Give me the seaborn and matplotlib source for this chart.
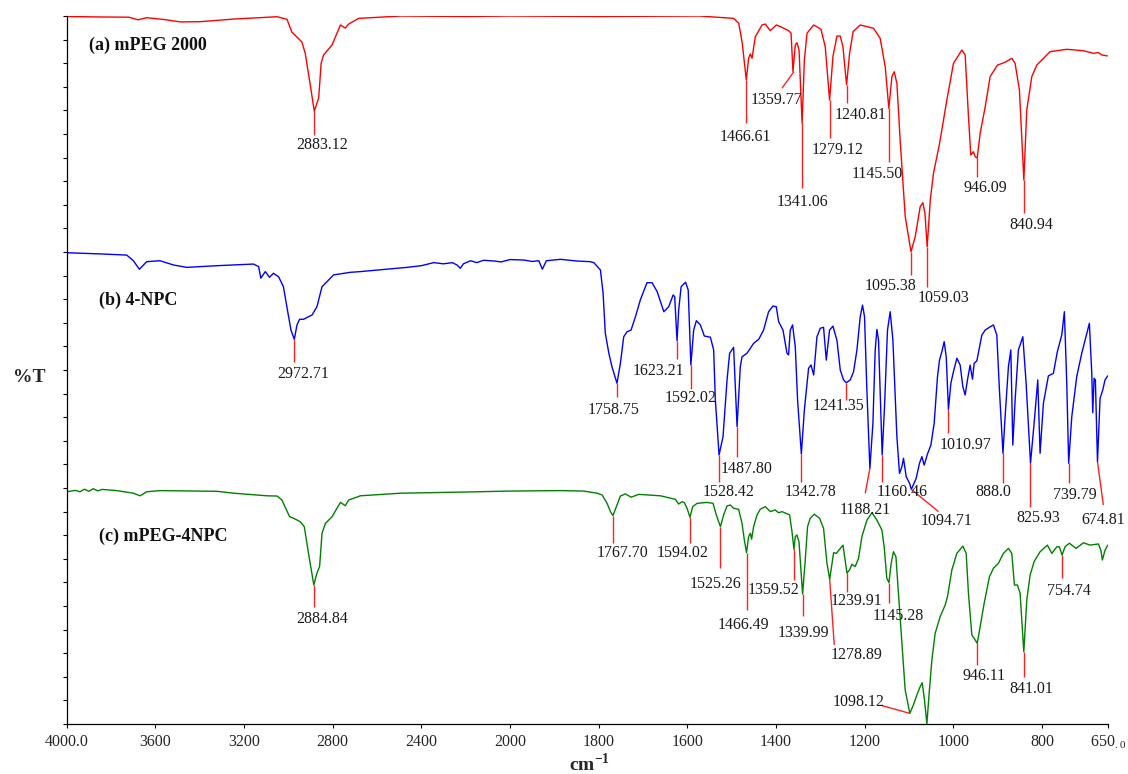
import numpy as np
import matplotlib
matplotlib.use("Agg")
import matplotlib.pyplot as plt
import seaborn as sns

# x axis: wavenumber (cm-1), scale is halved above 2000
x_ticks = [4000, 3600, 3200, 2800, 2400, 2000, 1800, 1600, 1400, 1200, 1000, 800, 650]
x_tick_labels = ['4000.0', '3600', '3200', '2800', '2400', '2000', '1800', '1600',
                 '1400', '1200', '1000', '800', r'650$\mathregular{_{.0}}$']

# (a) mPEG 2000 - stacked %T (arbitrary offset units)
wn_a = [4000, 3850, 3720, 3678, 3639, 3560, 3487, 3397, 3248, 3051, 3006, 2984, 2939, 2924,
        2901, 2883, 2863, 2852, 2841, 2803, 2765, 2743, 2728, 2683, 2494, 2200, 2000, 1800,
        1572, 1495.5, 1484, 1476, 1467, 1461.7, 1458, 1454, 1446.7, 1431.5, 1424, 1413,
        1399.3, 1390, 1371.6, 1366, 1361.7, 1356.5, 1352.7, 1348, 1341.1, 1336, 1330, 1315,
        1298.6, 1288.9, 1279.1, 1271.5, 1262.5, 1255, 1249, 1240.8, 1234, 1226, 1210, 1180,
        1165, 1153.6, 1145.5, 1138.5, 1133.3, 1127.3, 1120, 1108.5, 1095.4, 1086, 1074.7,
        1068.7, 1064, 1059, 1052, 1044.8, 1031, 1014.6, 999.7, 980.8, 973.3, 965.8, 960.6,
        954.6, 950.8, 946.1, 939.5, 928, 917, 900.5, 883.2, 868, 860.6, 850.9, 840.9, 834.3,
        823, 811.7, 781.7, 744, 706.6, 684, 672.8, 665, 652.5]
t_a = [29.98, 29.96, 29.95, 29.84, 29.93, 29.85, 29.75, 29.76, 29.87, 29.97, 29.86, 29.32,
       28.90, 28.43, 27.08, 25.97, 26.53, 28.00, 28.35, 28.77, 29.62, 29.49, 29.66, 29.90,
       30.00, 29.98, 30.00, 29.98, 30.00, 29.90, 29.69, 28.84, 27.29, 28.21, 28.39, 28.21,
       29.12, 29.62, 29.66, 29.38, 29.62, 29.55, 29.38, 29.27, 27.64, 28.77, 28.87, 28.56,
       25.45, 28.14, 29.27, 29.62, 29.44, 28.70, 26.44, 28.28, 29.15, 29.15, 28.70, 27.08,
       28.42, 29.34, 29.62, 29.48, 29.05, 27.85, 26.09, 27.43, 27.64, 27.15, 24.75, 21.50,
       20.01, 20.65, 21.92, 22.09, 21.64, 20.22, 22.20, 23.33, 24.60, 26.44, 27.99, 28.56,
       28.35, 25.73, 24.11, 24.25, 24.04, 23.98, 25.03, 26.16, 27.43, 27.92, 28.04, 28.21,
       27.99, 26.86, 23.05, 26.02, 27.43, 27.92, 28.49, 28.59, 28.53, 28.42, 28.45, 28.35,
       28.31]

# (b) 4-NPC
wn_b = [4000, 3850, 3729, 3699, 3672, 3639, 3579, 3518, 3458, 3322, 3157, 3134, 3124, 3104,
        3085, 3067, 3044, 3022, 3004, 2988, 2973, 2961, 2949, 2931, 2909, 2893, 2871, 2848,
        2796, 2720, 2675, 2580, 2464, 2400, 2344, 2300, 2260, 2239, 2224, 2210, 2178, 2150,
        2120, 2073, 2040, 2000, 1969, 1950, 1935, 1927, 1918, 1886, 1850, 1819, 1811, 1796,
        1790, 1785, 1777, 1770, 1758.7, 1751, 1743.5, 1736, 1727, 1717, 1706, 1691, 1679.5,
        1668, 1653, 1642, 1632, 1628.5, 1623.2, 1619.5, 1614, 1604, 1598, 1592, 1585.7,
        1579.6, 1570.6, 1561.6, 1548, 1540.6, 1536.8, 1528.4, 1519.5, 1510.4, 1504.6, 1495.6,
        1487.8, 1480.5, 1476.6, 1465.4, 1450.5, 1439, 1428, 1416.7, 1406.8, 1399.3, 1394.1,
        1384.2, 1375.2, 1371.6, 1367.8, 1362.6, 1356.5, 1351.3, 1342.8, 1336, 1326.5, 1321,
        1315, 1307.6, 1300, 1292.7, 1286.6, 1279.2, 1271.5, 1262.5, 1255, 1247.6, 1241.4,
        1232.5, 1225, 1217.4, 1210, 1204.8, 1200.3, 1195, 1188.2, 1181.4, 1176.2, 1172.4,
        1168.7, 1160.5, 1155.2, 1148.5, 1142.4, 1136.3, 1127.3, 1121.4, 1116, 1112.4, 1106.3,
        1098.8, 1094.7, 1083.8, 1076.3, 1070.9, 1065.7, 1058.3, 1050.6, 1043.2, 1035.7,
        1031.2, 1025.8, 1020.6, 1016, 1011, 1005.5, 999.7, 992, 984.6, 978.5, 973.3, 968.1,
        962.1, 956.8, 953, 946.9, 935.7, 928.2, 917, 909.5, 901.9, 896, 888, 883.2, 875.7,
        870.3, 865.8, 860.6, 853.2, 843.2, 835.8, 825.9, 817.8, 809.5, 804.3, 796.8, 785.6,
        774.3, 765.3, 755.4, 749.5, 744.1, 739.8, 732.8, 721.6, 710.3, 702.8, 693.1, 687.7,
        685.5, 682.5, 679.6, 674.8, 669, 663, 657.8, 651.7]
t_b = [19.97, 19.92, 19.87, 19.63, 19.27, 19.59, 19.63, 19.45, 19.35, 19.42, 19.49, 19.38,
       18.89, 19.17, 18.93, 19.10, 18.95, 18.53, 17.54, 16.69, 16.30, 16.91, 17.15, 17.15,
       17.26, 17.33, 17.68, 18.53, 19.03, 19.14, 19.17, 19.25, 19.35, 19.42, 19.55, 19.50,
       19.55, 19.45, 19.31, 19.50, 19.63, 19.55, 19.65, 19.62, 19.58, 19.68, 19.66, 19.60,
       19.63, 19.27, 19.63, 19.69, 19.62, 19.59, 19.55, 19.24, 18.25, 16.56, 15.71, 15.14,
       14.44, 15.28, 16.41, 16.62, 16.69, 17.26, 17.97, 18.70, 18.70, 18.32, 17.47, 17.68,
       18.18, 18.11, 16.24, 17.54, 18.53, 18.72, 18.39, 15.21, 16.69, 17.09, 16.91, 16.44,
       16.39, 15.85, 13.73, 11.40, 12.17, 14.58, 15.71, 15.96, 12.60, 15.14, 15.56, 15.71,
       16.13, 16.30, 16.69, 17.47, 17.71, 17.68, 17.05, 16.69, 15.71, 15.64, 16.69, 16.91,
       15.99, 13.73, 11.44, 13.31, 15.07, 15.21, 14.79, 16.41, 16.77, 16.81, 15.42, 16.69,
       16.86, 16.25, 15.00, 14.58, 14.46, 14.58, 14.93, 15.85, 17.26, 17.75, 17.26, 14.15,
       10.83, 12.74, 15.85, 16.72, 16.27, 11.40, 13.45, 16.69, 17.47, 16.27, 12.17, 10.62,
       10.90, 11.26, 10.48, 10.20, 9.94, 10.41, 11.05, 11.33, 10.97, 11.44, 11.82, 12.74,
       14.72, 15.42, 15.78, 16.20, 15.56, 13.33, 14.44, 14.93, 15.50, 15.21, 14.29, 13.94,
       14.58, 15.21, 14.61, 15.28, 15.39, 16.48, 16.69, 16.83, 16.91, 16.48, 14.15, 11.47,
       13.02, 15.14, 15.85, 11.82, 13.73, 15.85, 16.41, 14.44, 11.05, 12.74, 14.58, 11.47,
       13.59, 14.75, 14.86, 15.78, 16.48, 17.47, 14.44, 11.05, 13.02, 14.72, 15.71, 16.27,
       16.98, 14.86, 13.19, 14.65, 14.58, 11.11, 13.80, 14.15, 14.58, 14.75]

# (c) mPEG-4NPC
wn_c = [4000, 3960, 3940, 3920, 3900, 3880, 3860, 3840, 3774, 3699, 3669, 3639, 3579, 3322,
        3247, 3097, 3051, 3029, 2994, 2976, 2946, 2928, 2909, 2885, 2871, 2859, 2848, 2833,
        2803, 2765, 2743, 2728, 2675, 2494, 2200, 2000, 1886, 1834, 1803.5, 1792, 1781,
        1773.5, 1767.7, 1760, 1751, 1739.7, 1726.8, 1709.7, 1660.8, 1626.9, 1619.5, 1611.9,
        1606.7, 1600.6, 1594, 1587.9, 1578, 1555.5, 1542, 1534.6, 1525.3, 1518.1, 1510.4,
        1503, 1495.6, 1484.3, 1476.6, 1471.4, 1466.5, 1461.7, 1457.9, 1455, 1450.5, 1442.8,
        1435.4, 1424.1, 1412.9, 1401.6, 1394.1, 1386.5, 1369.3, 1363.9, 1359.5, 1356.5,
        1352.7, 1348.1, 1340, 1334, 1328.8, 1322.7, 1313.7, 1301.7, 1292.7, 1285, 1278.9,
        1270, 1264, 1256.6, 1248.9, 1239.9, 1234, 1228.7, 1221.3, 1213.8, 1206.2, 1194.9,
        1183.6, 1172.4, 1161.1, 1156, 1150, 1145.3, 1140.1, 1135, 1129.5, 1123.7, 1116,
        1108.6, 1098.1, 1090, 1080.8, 1074.7, 1070.2, 1065, 1059.7, 1054.5, 1048.4, 1041,
        1029.7, 1018.4, 1013.2, 1003.3, 992, 978.5, 971, 965.9, 958.2, 953, 946.1, 939.5,
        930.5, 918.5, 909.5, 898.3, 887, 875.7, 868.1, 862.2, 855.5, 849.4, 841, 834.3, 826.8,
        817.8, 804.3, 787.8, 777.9, 766.6, 760.8, 754.7, 748, 738.2, 723.1, 706.6, 691.5,
        672.8, 667.3, 663.8, 657.7, 651.6]
t_c = [9.84, 9.90, 9.84, 9.95, 9.86, 9.97, 9.88, 9.94, 9.89, 9.78, 9.67, 9.84, 9.89, 9.86,
       9.78, 9.67, 9.66, 9.49, 8.78, 8.72, 8.57, 8.36, 7.23, 5.89, 6.39, 6.67, 8.08, 8.50,
       8.78, 9.39, 9.25, 9.49, 9.67, 9.78, 9.83, 9.87, 9.89, 9.87, 9.78, 9.70, 9.35, 9.00,
       8.83, 9.21, 9.66, 9.75, 9.61, 9.73, 9.67, 9.52, 9.32, 9.42, 9.38, 9.14, 8.76, 9.21,
       9.35, 9.39, 9.35, 8.86, 8.36, 8.86, 9.24, 9.28, 9.14, 9.10, 8.50, 7.80, 7.26, 7.94,
       8.08, 7.83, 8.36, 8.86, 9.10, 9.21, 9.00, 9.07, 8.95, 9.00, 8.86, 8.15, 7.40, 7.94,
       8.01, 7.72, 5.51, 6.95, 8.36, 8.72, 8.89, 8.72, 8.29, 6.81, 6.13, 7.26, 7.23, 7.40,
       7.58, 6.39, 6.53, 6.77, 6.67, 7.02, 7.94, 8.64, 8.95, 8.64, 8.22, 7.51, 6.17, 5.99,
       6.81, 7.30, 7.09, 5.54, 3.42, 1.44, 0.45, 0.81, 1.30, 1.58, 1.75, 1.02, 0.00, 1.30,
       2.71, 3.84, 4.55, 5.04, 5.39, 6.53, 7.23, 7.54, 7.23, 5.54, 3.77, 3.63, 3.42, 4.12,
       5.11, 6.24, 6.60, 6.81, 7.23, 7.44, 7.23, 5.89, 5.89, 5.54, 3.06, 5.25, 6.31, 6.88,
       7.30, 7.58, 7.23, 7.51, 7.51, 7.16, 7.51, 7.66, 7.44, 7.68, 7.58, 7.63, 7.37, 6.95,
       7.37, 7.58]

# peak labels: text, %T at the peak, end of the marker line, centre of the label
peaks_a = ['2883.12', '1466.61', '1359.77', '1341.06', '1279.12', '1240.81', '1145.50',
           '1095.38', '1059.03', '946.09', '840.94']
peak_t_a = [25.97, 27.29, 27.64, 25.45, 26.44, 27.08, 26.09, 20.01, 20.22, 23.98, 23.05]
end_wn_a = [2883.12, 1466.61, 1386.5, 1341.06, 1279.12, 1240.81, 1145.50, 1095.38, 1059.03,
            946.09, 840.94]
end_t_a = [24.96, 25.45, 26.94, 22.70, 24.83, 26.30, 23.83, 19.03, 18.53, 23.19, 21.64]
txt_wn_a = [2847, 1469.2, 1399.3, 1340.7, 1261.1, 1210, 1172.3, 1142.4, 1022.2, 928.2, 823]
txt_t_a = [24.53, 24.89, 26.44, 22.12, 24.32, 25.81, 23.31, 18.56, 18.06, 22.72, 21.14]

peaks_b = ['2972.71', '1758.75', '1623.21', '1592.02', '1528.42', '1487.80', '1342.78',
           '1241.35', '1188.21', '1160.46', '1094.71', '1010.97', '888.0', '825.93', '739.79',
           '674.81']
peak_t_b = [16.30, 14.44, 16.24, 15.21, 11.40, 12.60, 11.44, 14.46, 10.83, 11.40, 9.94, 13.33,
            11.47, 11.05, 11.05, 11.11]
end_wn_b = [2972.71, 1758.75, 1623.21, 1592.02, 1528.42, 1487.80, 1342.78, 1241.35, 1198.7,
            1160.46, 1033.5, 1010.97, 888.0, 825.93, 739.79, 661.6]
end_t_b = [15.34, 13.87, 15.45, 14.19, 10.27, 11.33, 10.27, 13.73, 9.78, 10.27, 9.00, 12.32,
           10.20, 9.21, 10.20, 9.28]
txt_wn_b = [2932.6, 1767.4, 1666, 1593.2, 1506.8, 1466.9, 1321.1, 1258.2, 1198.7, 1116,
            1014.5, 973.3, 910.9, 808.1, 725.4, 662.3]
txt_t_b = [14.82, 13.31, 14.97, 13.80, 9.82, 10.81, 9.82, 13.47, 9.07, 9.84, 8.61, 11.82,
           9.84, 8.74, 9.70, 8.64]

peaks_c = ['2884.84', '1767.70', '1594.02', '1525.26', '1466.49', '1359.52', '1339.99',
           '1278.89', '1239.91', '1145.28', '1098.12', '946.11', '841.01', '754.74']
peak_t_c = [5.89, 8.83, 8.76, 8.36, 7.26, 7.40, 5.51, 6.13, 6.39, 5.99, 0.45, 3.42, 3.06, 7.16]
end_wn_c = [2884.84, 1767.70, 1594.02, 1525.26, 1466.49, 1359.52, 1339.99, 1268.6, 1239.91,
            1145.28, 1161.1, 946.11, 841.01, 754.74]
end_t_c = [4.97, 7.68, 7.68, 6.60, 4.83, 6.10, 4.59, 3.35, 5.61, 5.11, 0.78, 2.50, 2.00, 6.17]
txt_wn_c = [2845.5, 1747.1, 1609.6, 1536.8, 1474.4, 1405.4, 1339.1, 1217.4, 1217.4, 1123.7,
            1214.5, 930.5, 823, 738.2]
txt_t_c = [4.44, 7.23, 7.23, 5.93, 4.19, 5.68, 3.87, 2.92, 5.21, 4.59, 0.94, 2.05, 1.47, 5.64]

sample_names = ['(a) mPEG 2000', '(b) 4-NPC', '(c) mPEG-4NPC']
name_wn = [3899, 3853, 3853]
name_t = [28.74, 17.97, 7.94]


def fwd(x):
    x = np.asarray(x, dtype=float)
    return np.where(x > 2000, 2000 + (x - 2000) / 2.0, x)


def inv(y):
    y = np.asarray(y, dtype=float)
    return np.where(y > 2000, 2000 + (y - 2000) * 2.0, y)


sns.set_style('ticks')
plt.rcParams['font.family'] = ['Liberation Serif', 'DejaVu Serif']
plt.rcParams['mathtext.fontset'] = 'custom'
plt.rcParams['mathtext.rm'] = 'Liberation Serif'
plt.rcParams['mathtext.bf'] = 'Liberation Serif:bold'

fig = plt.figure(figsize=(11.28, 7.74), dpi=100)
ax = fig.add_axes([0.0591, 0.0646, 0.9236, 0.9147])

spectra = [(wn_a, t_a, '#ff0000'), (wn_b, t_b, '#0000ff'), (wn_c, t_c, '#008000')]
for wn, t, col in spectra:
    sns.lineplot(x=wn, y=t, color=col, lw=1.0, estimator=None, sort=False, ax=ax)

ann = [(peaks_a, peak_t_a, end_wn_a, end_t_a, txt_wn_a, txt_t_a),
       (peaks_b, peak_t_b, end_wn_b, end_t_b, txt_wn_b, txt_t_b),
       (peaks_c, peak_t_c, end_wn_c, end_t_c, txt_wn_c, txt_t_c)]
for labels, pt, ew, et, tw, tt in ann:
    for i, lab in enumerate(labels):
        ax.plot([float(lab), ew[i]], [pt[i], et[i]], color='#ff2020', lw=1.0,
                solid_capstyle='butt', clip_on=False)
        ax.text(tw[i], tt[i], lab, ha='center', va='center', fontsize=11.5,
                color='#1a1a1a', clip_on=False)

for name, w, t in zip(sample_names, name_wn, name_t):
    ax.text(w, t, name, ha='left', va='center', fontsize=13, fontweight='bold', color='#111111')

ax.set_xscale('function', functions=(fwd, inv))
ax.set_xlim(4000, 650)
ax.set_ylim(0, 30)
ax.set_xticks(x_ticks)
ax.set_xticklabels(x_tick_labels, fontsize=11.5)
ax.xaxis.set_minor_locator(plt.NullLocator())
ax.set_yticks(range(0, 31))
ax.set_yticklabels([])
ax.tick_params(axis='both', direction='out', length=3, width=0.8, color='black', pad=4)

ax.set_xlabel(r'cm$^{\mathregular{-1}}$', fontsize=14, fontweight='bold', va='baseline')
ax.xaxis.set_label_coords(0.502, -0.066)
ax.set_ylabel('%T', rotation=0, fontsize=14, fontweight='bold', ha='center', va='center')
ax.yaxis.set_label_coords(-0.036, 0.49)

sns.despine(ax=ax)
for s in ['left', 'bottom']:
    ax.spines[s].set_linewidth(0.9)
    ax.spines[s].set_color('black')

fig.savefig('out.png', dpi=100)
